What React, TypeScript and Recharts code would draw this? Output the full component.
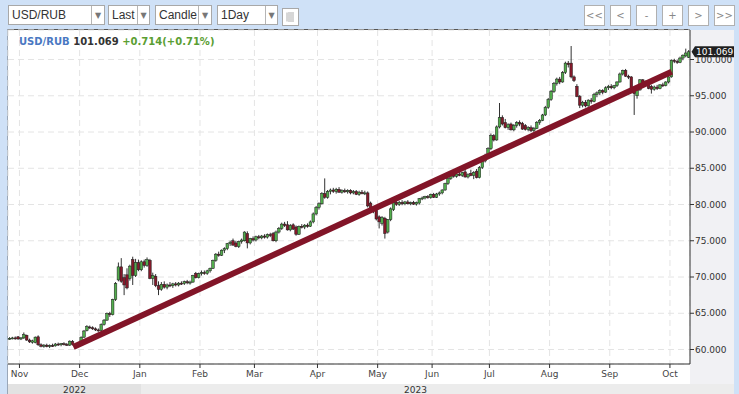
import React from 'react';
import { ComposedChart, Bar, XAxis, YAxis, CartesianGrid, ReferenceLine } from 'recharts';

// ---- data (open, high, low, close) per trading day ----
const octCandles = [
  [61.5, 61.7, 61.35, 61.55], [61.55, 61.75, 61.4, 61.6], [61.6, 61.8, 61.35, 61.5], [61.75, 61.85, 61.35, 61.45],
];
const novCandles = [
  [61.45, 61.7, 61.3, 61.6], [61.6, 62.35, 61.45, 62.05], [61.95, 62.05, 61.2, 61.3], [61.3, 61.5, 60.9, 61.05],
  [61.0, 61.35, 60.8, 61.2], [60.95, 61.8, 60.85, 61.7], [61.75, 61.95, 60.5, 60.65], [60.65, 60.85, 60.3, 60.45],
  [60.45, 60.75, 60.25, 60.6], [60.6, 60.8, 60.3, 60.4], [60.4, 60.7, 60.2, 60.55], [60.55, 60.8, 60.35, 60.5],
  [60.5, 60.9, 60.4, 60.75], [60.75, 60.95, 60.5, 60.65], [60.65, 60.9, 60.45, 60.8], [60.8, 61.0, 60.55, 60.7],
  [60.7, 60.9, 60.5, 60.6], [60.6, 61.25, 60.5, 61.15], [61.1, 61.3, 60.55, 60.7], [60.7, 60.9, 60.4, 60.55],
  [60.55, 60.95, 60.4, 60.85],
];
const decCandles = [
  [60.85, 61.8, 60.7, 61.7], [61.7, 62.7, 61.6, 62.55], [62.6, 63.35, 62.5, 63.15], [63.1, 63.3, 62.85, 63.0],
  [63.0, 63.2, 62.7, 62.85], [62.85, 63.05, 62.55, 62.7], [62.7, 62.9, 62.45, 62.6], [62.6, 63.6, 62.5, 63.45],
  [63.45, 64.2, 63.3, 64.05], [64.05, 65.1, 63.95, 64.95], [64.95, 65.2, 64.5, 64.8], [64.8, 67.0, 64.7, 66.9],
  [66.9, 69.3, 66.7, 69.1], [69.6, 72.0, 69.4, 71.4], [71.4, 72.6, 69.2, 69.4], [69.9, 70.4, 67.5, 68.9],
  [70.3, 71.2, 68.3, 68.5], [69.8, 71.7, 69.5, 71.5], [72.4, 72.8, 68.9, 70.2], [70.2, 72.5, 70.0, 72.0],
  [72.0, 72.4, 70.8, 71.0],
];
const janCandles = [
  [71.0, 72.3, 70.8, 72.1], [72.1, 72.4, 71.3, 71.6], [71.6, 72.7, 71.4, 72.4], [72.3, 72.5, 69.7, 69.8],
  [69.8, 70.6, 68.9, 70.2], [70.1, 70.4, 68.6, 68.8], [68.8, 69.4, 67.5, 68.3], [68.3, 69.3, 68.1, 69.0],
  [69.0, 69.4, 68.4, 68.6], [68.6, 69.1, 68.3, 68.9], [68.9, 69.3, 68.6, 68.8], [68.8, 69.2, 68.5, 69.05],
  [69.05, 69.3, 68.7, 68.9], [68.9, 69.3, 68.7, 69.15], [69.15, 69.4, 68.9, 69.1], [69.1, 69.5, 68.9, 69.35],
  [69.35, 69.6, 69.0, 69.2], [69.2, 69.5, 68.95, 69.3], [69.3, 70.3, 69.2, 70.2], [70.5, 70.7, 69.8, 69.9],
  [69.9, 70.6, 69.8, 70.45],
];
const febCandles = [
  [70.45, 70.9, 70.2, 70.6], [70.6, 70.9, 70.3, 70.5], [70.5, 71.0, 70.3, 70.85], [70.85, 71.3, 70.6, 71.2],
  [71.2, 72.4, 71.1, 72.3], [72.3, 73.3, 72.1, 73.15], [73.15, 73.5, 72.8, 73.0], [73.0, 73.8, 72.9, 73.7],
  [73.7, 74.1, 73.3, 73.9], [73.9, 74.7, 73.7, 74.6], [74.6, 75.0, 74.3, 74.8], [75.0, 75.3, 74.3, 74.4],
  [74.7, 75.0, 74.1, 74.2], [74.2, 75.0, 74.0, 74.9], [74.9, 75.3, 74.6, 75.1], [75.0, 76.3, 74.9, 76.2],
  [76.0, 76.3, 73.95, 74.7], [74.7, 75.4, 74.5, 75.3], [75.3, 75.6, 74.9, 75.1],
];
const marCandles = [
  [75.1, 75.7, 74.9, 75.55], [75.55, 75.8, 75.2, 75.4], [75.4, 75.8, 75.2, 75.65], [75.65, 75.9, 75.3, 75.5],
  [75.5, 76.0, 75.3, 75.85], [75.85, 76.1, 75.5, 75.7], [76.0, 76.2, 74.9, 75.0], [75.0, 76.4, 74.8, 76.2],
  [76.2, 76.9, 76.0, 76.7], [76.7, 77.5, 76.5, 77.3], [77.3, 77.6, 76.9, 77.1], [77.2, 77.7, 76.4, 76.5],
  [76.5, 77.3, 76.3, 77.1], [77.2, 77.4, 76.5, 76.6], [76.9, 77.1, 75.7, 75.9], [75.9, 77.1, 75.8, 77.0],
  [77.0, 77.3, 76.7, 76.9], [76.9, 77.3, 76.6, 77.15], [77.15, 77.4, 76.8, 77.0], [77.0, 77.8, 76.9, 77.6],
  [77.6, 78.9, 77.4, 78.7], [78.7, 79.8, 78.5, 79.6],
];
const aprCandles = [
  [79.6, 80.3, 79.3, 80.1], [80.1, 81.7, 80.0, 81.5], [81.5, 83.6, 80.8, 81.0], [81.0, 82.0, 80.8, 81.8],
  [81.8, 82.2, 81.4, 82.0], [82.0, 82.3, 81.6, 81.8], [81.8, 82.3, 81.5, 82.1], [82.1, 82.4, 81.6, 81.7],
  [81.7, 82.1, 81.5, 81.9], [81.9, 82.2, 81.6, 81.75], [81.75, 82.1, 81.5, 81.95], [81.95, 82.1, 81.4, 81.6],
  [81.6, 82.0, 81.4, 81.8], [81.8, 82.0, 81.3, 81.4], [81.4, 81.9, 81.2, 81.7], [81.7, 82.0, 81.4, 81.5],
  [81.5, 81.9, 81.3, 81.6], [81.6, 81.8, 79.6, 79.8], [80.2, 80.4, 79.1, 79.3], [79.3, 79.6, 78.8, 79.1],
  [79.2, 79.4, 77.8, 78.0],
];
const mayCandles = [
  [78.3, 78.5, 76.7, 77.6], [77.4, 78.4, 77.1, 78.2], [78.1, 78.3, 75.3, 76.0], [76.2, 78.0, 76.0, 77.9],
  [77.9, 79.6, 77.7, 79.4], [79.3, 80.5, 79.1, 80.3], [80.3, 80.6, 79.8, 80.0], [80.0, 80.5, 79.8, 80.3],
  [80.3, 80.6, 79.9, 80.1], [80.1, 80.5, 79.9, 80.35], [80.35, 80.6, 80.0, 80.1], [80.1, 80.4, 79.9, 80.25],
  [80.25, 80.5, 79.95, 80.05], [80.05, 80.4, 79.85, 80.3], [80.2, 80.9, 80.0, 80.8], [80.8, 81.1, 80.6, 80.9],
  [80.9, 81.2, 80.7, 81.1], [81.1, 81.3, 80.8, 80.95], [80.95, 81.5, 80.8, 81.4],
];
const junCandles = [
  [81.4, 81.6, 80.9, 81.0], [81.0, 81.6, 80.9, 81.45], [81.45, 81.8, 81.2, 81.6], [81.6, 82.1, 81.4, 82.0],
  [82.0, 83.0, 81.9, 82.9], [82.9, 83.8, 82.7, 83.6], [83.6, 84.4, 83.4, 84.2], [84.2, 84.5, 83.7, 83.9],
  [83.9, 84.4, 83.7, 84.2], [84.2, 84.6, 83.9, 84.0], [84.0, 84.5, 83.8, 84.4], [84.5, 84.9, 83.7, 83.8],
  [83.8, 84.3, 83.6, 84.1], [84.3, 84.8, 83.9, 84.0], [84.0, 84.6, 83.5, 84.4], [84.6, 84.9, 83.6, 83.7],
  [83.7, 85.3, 83.6, 85.1], [85.1, 86.2, 84.9, 86.0], [86.0, 87.0, 85.8, 86.8], [86.8, 87.9, 86.6, 87.7],
];
const julCandles = [
  [87.7, 89.8, 87.5, 89.5], [89.5, 89.7, 88.7, 88.9], [88.9, 90.9, 88.8, 90.7], [90.7, 94.0, 90.5, 92.0],
  [92.0, 92.3, 90.9, 91.1], [91.3, 91.8, 90.5, 90.6], [90.6, 91.2, 90.3, 91.0], [91.1, 91.3, 90.2, 90.3],
  [90.3, 91.1, 90.1, 90.9], [90.9, 91.5, 90.6, 91.3], [91.3, 91.6, 90.8, 91.1], [91.2, 91.4, 90.3, 90.4],
  [90.9, 91.1, 90.2, 90.35], [90.35, 90.8, 90.1, 90.6], [90.6, 90.9, 90.0, 90.2], [90.2, 90.7, 90.0, 90.5],
  [90.5, 91.5, 90.4, 91.35], [91.35, 91.8, 91.0, 91.6], [91.6, 92.5, 91.5, 92.35], [92.35, 93.6, 92.2, 93.4],
  [93.4, 94.7, 93.2, 94.5],
];
const augCandles = [
  [94.5, 95.8, 94.3, 95.6], [95.6, 96.9, 95.4, 96.7], [96.7, 97.5, 96.4, 97.3], [97.3, 97.6, 96.6, 96.9],
  [96.9, 98.4, 96.8, 98.2], [98.2, 99.7, 98.0, 99.5], [99.5, 99.8, 98.9, 99.3], [99.5, 101.86, 97.4, 97.6],
  [97.6, 97.8, 96.9, 97.1], [96.3, 96.6, 94.8, 94.9], [94.9, 95.1, 93.3, 93.7], [93.7, 94.3, 93.4, 94.1],
  [94.1, 94.4, 93.4, 93.6], [93.6, 94.5, 93.5, 94.4], [94.4, 94.7, 93.9, 94.2], [94.2, 95.4, 94.1, 95.2],
  [95.2, 95.6, 94.8, 95.4], [95.4, 95.9, 95.1, 95.7], [95.7, 95.9, 95.2, 95.5], [95.5, 96.3, 95.4, 96.1],
  [96.1, 96.5, 95.8, 96.3],
];
const sepCandles = [
  [96.3, 96.6, 95.9, 96.1], [96.1, 96.5, 95.9, 96.4], [96.4, 97.0, 96.2, 96.9], [96.9, 98.2, 96.8, 98.0],
  [98.0, 98.6, 97.8, 98.5], [98.5, 98.7, 97.6, 97.7], [97.7, 97.9, 97.3, 97.6], [97.6, 97.7, 95.5, 95.6],
  [95.6, 95.9, 92.35, 95.3], [95.0, 96.0, 94.6, 95.8], [95.8, 97.3, 95.7, 97.2], [97.2, 97.3, 96.6, 96.8],
  [96.8, 97.1, 96.5, 96.9], [96.7, 96.9, 95.9, 96.0], [96.3, 96.5, 95.3, 95.9], [95.9, 96.4, 95.7, 96.2],
  [96.2, 96.5, 95.8, 96.0], [96.0, 96.6, 95.9, 96.5], [96.5, 96.8, 96.2, 96.4], [96.4, 97.0, 96.3, 96.9],
  [96.9, 97.7, 96.7, 97.6],
];
const oct2Candles = [
  [97.6, 100.0, 97.5, 99.9], [99.9, 100.1, 99.5, 99.75], [99.75, 100.0, 99.4, 99.6], [99.6, 100.4, 99.5, 100.2],
  [100.2, 100.7, 99.9, 100.6], [100.5, 101.5, 100.3, 100.9], [100.3, 101.3, 100.2, 101.069],
];

const monthLabels = ['Nov', 'Dec', 'Jan', 'Feb', 'Mar', 'Apr', 'May', 'Jun', 'Jul', 'Aug', 'Sep', 'Oct'];
const monthStarts = [4, 25, 46, 67, 86, 108, 129, 148, 168, 189, 210, 231];
const priceTicks = [60, 65, 70, 75, 80, 85, 90, 95, 100];
const yearLabels = ['2022', '2023'];
const trendPoints = [{ x: 22.8, y: 60.35 }, { x: 231.6, y: 98.3 }];
const symbol = 'USD/RUB';
const lastPrice = 101.069;
const changeText = '+0.714(+0.71%)';
const toolbarSelects = ['USD/RUB', 'Last', 'Candle', '1Day'];
const navButtons = ['<<', '<', '-', '+', '>', '>>'];

const allCandles = [
  ...octCandles, ...novCandles, ...decCandles, ...janCandles, ...febCandles, ...marCandles,
  ...aprCandles, ...mayCandles, ...junCandles, ...julCandles, ...augCandles, ...sepCandles, ...oct2Candles,
];
const data = allCandles.map(([o, h, l, c], idx) => ({ t: idx + 0.5, range: [l, h], o, h, l, c }));
const N = allCandles.length;

const GREEN = '#52ad4c';
const RED = '#85192a';
const TREND = '#821528';
const AXIS_FONT = '"DejaVu Sans", Verdana, sans-serif';

const CandleShape = (props: any) => {
  const { x, y, width, height } = props;
  const p = props.payload || props;
  const { o, h, l, c } = p;
  const top = Math.min(y, y + height);
  const span = Math.abs(height);
  const ppu = span / (h - l);
  const py = (v: number) => top + (h - v) * ppu;
  const cx = x + width / 2;
  const up = c >= o;
  const bTop = py(Math.max(o, c));
  const bH = Math.max(1, Math.abs(py(o) - py(c)));
  return (
    <g>
      <line x1={cx} x2={cx} y1={top} y2={top + span} stroke="#1b1b1b" strokeWidth={0.9} />
      <rect x={cx - 1.3} y={bTop} width={2.6} height={bH} fill={up ? GREEN : RED} stroke="#1b1b1b" strokeWidth={0.5} />
    </g>
  );
};

const PriceTag = (props: any) => {
  const vb = props.viewBox || {};
  const X = vb.x + vb.width;
  const Y = vb.y;
  return (
    <g>
      <path d={`M${X + 1.5},${Y} L${X + 5},${Y - 5.5} L${X + 44},${Y - 5.5} L${X + 44},${Y + 5.5} L${X + 5},${Y + 5.5} Z`} fill="#1f1f1f" />
      <text x={X + 6} y={Y + 3.3} fill="#ffffff" fontSize={9} fontFamily={AXIS_FONT}>{lastPrice.toFixed(3)}</text>
    </g>
  );
};

const selectBoxes = [
  { left: 8, width: 97, div: 82 },
  { left: 108, width: 42, div: 28 },
  { left: 155, width: 57, div: 42 },
  { left: 217, width: 61, div: 47 },
];
const navLefts = [584, 610, 636, 662, 688, 714];

export default function App() {
  return (
    <div style={{ position: 'fixed', left: 0, top: 0, width: 739, height: 394, background: '#cfe1f7', overflow: 'hidden', fontFamily: '"Liberation Sans", Arial, sans-serif' }}>
      <div style={{ position: 'absolute', left: 8, top: 30, width: 682, height: 354, background: '#ffffff' }} />
      <div style={{ position: 'absolute', left: 690, top: 30, width: 44, height: 354, background: '#f1f1f4' }} />
      <div style={{ position: 'absolute', left: 8, top: 384, width: 133, height: 10, background: '#e2e2e2' }} />
      <div style={{ position: 'absolute', left: 141, top: 384, width: 593, height: 10, background: '#ececec' }} />
      <div style={{ position: 'absolute', left: 8, top: 29, width: 682, height: 1, background: '#555' }} />
      <div style={{ position: 'absolute', left: 7, top: 29, width: 1, height: 365, background: '#9aa7b8' }} />
      <div style={{ position: 'absolute', left: 8, top: 385, width: 133, textAlign: 'center', fontFamily: AXIS_FONT, fontSize: 9, color: '#333', lineHeight: '11px' }}>{yearLabels[0]}</div>
      <div style={{ position: 'absolute', left: 141, top: 385, width: 549, textAlign: 'center', fontFamily: AXIS_FONT, fontSize: 9, color: '#333', lineHeight: '11px' }}>{yearLabels[1]}</div>

      <div style={{ position: 'absolute', left: 0, top: 0 }}>
        <ComposedChart width={739} height={394} data={data} margin={{ top: 30, right: 5, bottom: 10, left: 8 }} barCategoryGap={0}>
          <CartesianGrid stroke="#e4e4e4" strokeDasharray="6 4" />
          <XAxis
            type="number"
            dataKey="t"
            domain={[0, N]}
            ticks={monthStarts}
            interval={0}
            allowDataOverflow
            tickFormatter={(v: number) => monthLabels[monthStarts.indexOf(v)]}
            height={20}
            tickSize={4}
            tickMargin={3}
            stroke="#333"
            tick={{ fill: '#444', fontSize: 9, fontFamily: AXIS_FONT }}
          />
          <YAxis
            orientation="right"
            domain={[58, 104.07]}
            ticks={priceTicks}
            allowDataOverflow
            width={44}
            tickSize={4}
            tickMargin={1}
            stroke="#333"
            tickFormatter={(v: number) => v.toFixed(3)}
            tick={{ fill: '#333', fontSize: 9, fontFamily: AXIS_FONT }}
          />
          <Bar dataKey="range" shape={<CandleShape />} isAnimationActive={false} />
          <ReferenceLine segment={trendPoints} stroke={TREND} strokeWidth={6} ifOverflow="visible" />
          <ReferenceLine y={lastPrice} stroke="none" ifOverflow="visible" label={<PriceTag />} />
        </ComposedChart>
      </div>

      <div style={{ position: 'absolute', left: 19, top: 36, fontFamily: '"DejaVu Sans", sans-serif', fontWeight: 'bold', fontSize: 10, lineHeight: '12px', whiteSpace: 'pre' }}>
        <span style={{ color: '#4a78c2' }}>{symbol}</span>
        <span style={{ color: '#333' }}> {lastPrice.toFixed(3)} </span>
        <span style={{ color: '#5a9e32' }}>{changeText}</span>
      </div>

      {selectBoxes.map((b, i) => (
        <div key={i} style={{ position: 'absolute', left: b.left, top: 5, width: b.width - 2, height: 18, background: '#fff', border: '1px solid #a8a8a8' }}>
          <div style={{ position: 'absolute', left: 3, top: 0, width: b.div - 4, height: 18, overflow: 'hidden', fontSize: 12, lineHeight: '19px', color: '#333', whiteSpace: 'nowrap' }}>{toolbarSelects[i]}</div>
          <div style={{ position: 'absolute', left: b.div, top: 0, width: 1, height: 18, background: '#b5b5b5' }} />
          <div style={{ position: 'absolute', left: b.div + 1, top: 0, width: b.width - b.div - 3, height: 18, textAlign: 'center', fontSize: 8, lineHeight: '19px', color: '#777', fontFamily: AXIS_FONT }}>▼</div>
        </div>
      ))}
      <div style={{ position: 'absolute', left: 282, top: 8, width: 15, height: 16, background: '#fff', border: '1px solid #a8a8a8' }}>
        <svg width={15} height={16}>
          {[4, 6, 8, 10, 12].map((yy) => (
            <line key={yy} x1={5} x2={11} y1={yy} y2={yy} stroke="#9a9a9a" strokeWidth={0.8} />
          ))}
          <line x1={4} x2={4} y1={3.5} y2={12.5} stroke="#9a9a9a" strokeWidth={0.8} />
        </svg>
      </div>
      {navButtons.map((t, i) => (
        <div key={t} style={{ position: 'absolute', left: navLefts[i], top: 5, width: 19, height: 19, background: '#fff', border: '1px solid #b0b0b0', textAlign: 'center', fontSize: 10, lineHeight: '19px', color: '#888', fontFamily: AXIS_FONT }}>{t}</div>
      ))}
    </div>
  );
}
